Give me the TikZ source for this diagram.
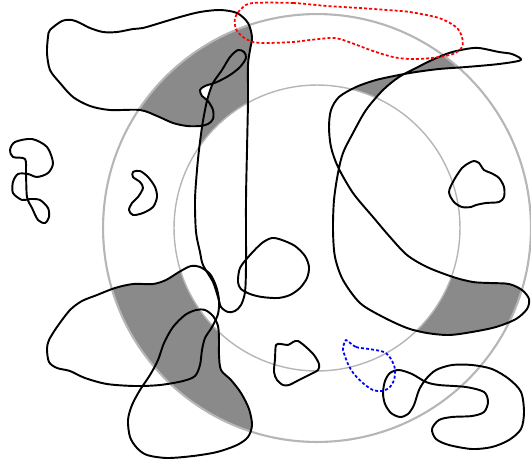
\documentclass[tikz,border=0pt]{standalone}
\definecolor{ringgray}{RGB}{182,182,182}
\definecolor{patchgray}{RGB}{138,138,138}
\tikzset{
  outline/.style={draw=black,line width=1.1pt,line join=round},
  ring/.style={draw=ringgray,line width=#1},
  ring/.default=1.2pt,
  patch/.style={fill=patchgray,nonzero rule},
  dotted line/.style={draw=#1,line width=1pt,dash pattern=on 1.7pt off 1.2pt},
}
% closed outlines that get a grey patch inside the ring
\newcommand\pathTopBlob{plot[smooth cycle] coordinates {
  (50,30) (62,21) (72,20) (80,23) (90,28) (103,32) (117,32) (133,29) (143,28)
  (160,23) (180,17) (200,12) (220,10) (237,13) (248,23) (252,37) (250,50)
  (248,65) (248,100) (247,150) (246,200) (246,265) (245,292) (241,305)
  (235,311) (228,312) (221,307) (218,297) (213,282) (203,265) (200,252)
  (196,232) (195,200) (197,170) (199,150) (202,127) (205,110) (208,97)
  (213,83) (222,70) (230,57) (238,50) (244,52) (246,58) (240,67) (230,75)
  (217,82) (205,86) (200,90) (202,96) (208,101) (213,110) (213,119)
  (208,124) (200,126) (187,126) (173,123) (157,116) (140,110) (110,110)
  (90,106) (73,97) (60,83) (50,70) (47,53) (48,37)}}
\newcommand\pathCrescent{plot[smooth cycle] coordinates {
  (521,60) (499,64) (466,67) (439,69) (416,72) (399,75) (376,80) (356,87)
  (339,97) (331,110) (329,127) (331,147) (338,167) (353,193) (373,217)
  (390,237) (407,255) (427,267) (453,277) (473,282) (490,283) (509,284)
  (522,290) (529,299) (527,309) (516,319) (496,327) (472,332) (449,335)
  (427,333) (407,328) (383,317) (360,303) (343,280) (335,257) (333,230)
  (334,200) (338,173) (343,153) (353,133) (366,110) (383,90) (399,77)
  (416,68) (432,60) (449,53) (466,49) (479,48) (499,52) (512,54)}}
\newcommand\pathLowerLeft{plot[smooth cycle] coordinates {
  (47,349) (49,362) (57,368) (70,371) (85,378) (107,384) (135,386) (160,385)
  (183,381) (195,376) (200,365) (202,350) (205,338) (212,327) (218,314)
  (219,300) (216,286) (210,274) (200,267) (191,266) (179,272) (166,280)
  (153,284) (133,284) (115,288) (97,295) (82,301) (70,310) (57,327) (49,340)}}
\newcommand\pathLowerMid{plot[smooth cycle] coordinates {
  (128,420) (130,437) (137,448) (147,455) (167,458) (193,456) (217,452)
  (237,445) (248,437) (252,425) (249,409) (241,393) (231,380) (221,370)
  (219,355) (219,340) (218,326) (213,316) (205,310) (196,310) (185,315)
  (173,327) (164,343) (158,360) (150,375) (140,390) (132,405)}}
\begin{document}
\begin{tikzpicture}[x=0.02cm,y=-0.02cm]
  \useasboundingbox (0,0) rectangle (531,464);
  \coordinate (c) at (317,228);
  % grey patches: shapes cut by the ring
  \begin{scope}[even odd rule]
    \clip (c) circle[radius=4.28cm] (c) circle[radius=2.86cm];
    \fill[patch] \pathTopBlob;
    \fill[patch] \pathCrescent;
    \fill[patch] \pathLowerLeft;
    \fill[patch] \pathLowerMid;
  \end{scope}
  \draw[ring] (c) circle[radius=4.28cm];
  \draw[ring=0.8pt] (c) circle[radius=2.86cm];
  % outlines
  \draw[outline] \pathTopBlob;
  \draw[outline] \pathCrescent;
  \draw[outline] \pathLowerLeft;
  \draw[outline] \pathLowerMid;
  \draw[outline] plot[smooth cycle] coordinates {
    (25,159) (13,157) (10,150) (15,142) (32,139) (47,147) (53,163) (48,173)
    (37,177) (28,174) (18,174) (13,182) (13,193) (22,200) (30,199) (40,200)
    (48,208) (49,217) (45,223) (38,220) (32,208) (27,197) (26,173)};
  \draw[outline] plot[smooth cycle] coordinates {
    (133,172) (140,171) (148,177) (155,187) (157,197) (153,207) (143,213)
    (133,215) (129,210) (132,203) (138,197) (143,188) (140,182) (133,177)};
  \draw[outline] plot[smooth cycle] coordinates {
    (238,282) (240,268) (250,255) (262,243) (272,238) (282,240) (295,246)
    (305,256) (309,267) (307,278) (300,288) (290,295) (278,298) (262,297)
    (250,294) (241,289)};
  \draw[outline] plot[smooth cycle] coordinates {
    (449,192) (454,180) (462,168) (469,163) (474,161) (479,163) (484,170)
    (491,173) (499,178) (504,187) (504,197) (499,202) (486,203) (476,205)
    (471,207) (462,207) (454,202)};
  \draw[outline] plot[smooth cycle] coordinates {
    (276,345) (281,344) (288,345) (293,342) (298,341) (306,347) (314,355)
    (319,364) (318,370) (309,375) (299,380) (289,385) (283,385) (277,380)
    (274,372) (275,359)};
  \draw[outline] plot[smooth cycle] coordinates {
    (383,393) (385,404) (391,413) (400,417) (408,414) (414,405) (419,390)
    (426,379) (436,370) (452,365) (472,365) (492,369) (509,379) (521,392)
    (524,412) (521,429) (509,440) (492,447) (472,449) (449,445) (436,439)
    (432,429) (439,420) (452,417) (472,416) (484,412) (488,402) (484,392)
    (466,387) (439,385) (426,382) (412,374) (399,370) (390,373) (385,381)};
  % dotted outlines
  \draw[dotted line=blue] plot[smooth cycle] coordinates {
    (346,340) (356,347) (369,349) (384,352) (391,359) (395,369) (394,380)
    (389,388) (381,391) (373,390) (364,384) (354,374) (348,364) (343,350)
    (344,344)};
  \draw[dotted line=red] plot[smooth cycle] coordinates {
    (253,3) (293,3) (327,6) (360,8) (387,10) (410,12) (439,18) (456,27)
    (462,37) (462,47) (453,54) (432,58) (410,59) (393,57) (373,51) (357,45)
    (340,39) (330,38) (310,40) (293,42) (266,43) (253,42) (243,37) (236,29)
    (235,18) (242,8)};
\end{tikzpicture}
\end{document}
